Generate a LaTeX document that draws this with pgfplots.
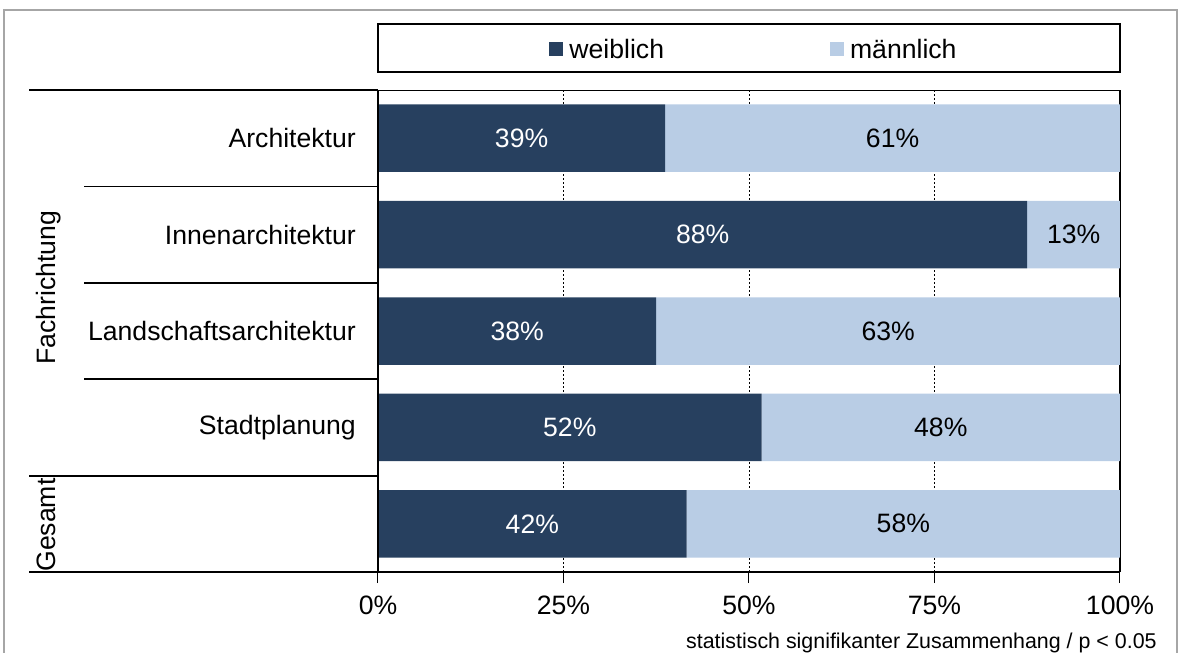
\documentclass[border=0pt]{standalone}
\usepackage{fontspec}
\setmainfont{Liberation Sans}
\usepackage{pgfplots}
\usepackage{pgfplotstable}
\pgfplotsset{compat=1.18}

\definecolor{dunkel}{RGB}{39,64,95}
\definecolor{hell}{RGB}{185,205,229}

% Anteile in Prozent: w = weiblich, m = maennlich
\pgfplotstableread{
y w m
0 38.7 61.3
1 87.5 12.5
2 37.5 62.5
3 51.7 48.3
4 41.6 58.4
}\anteile

\begin{document}
\fontsize{13.3}{16}\selectfont%
\begin{tikzpicture}
\path[use as bounding box] (0,0) rectangle (590pt,-326.5pt);

\begin{axis}[
  at={(189pt,-286pt)}, anchor=south west,
  scale only axis, width=371pt, height=241pt,
  xbar stacked, bar width=0.7,
  xmin=0, xmax=100, ymin=-0.5, ymax=4.5, y dir=reverse,
  xtick={0,25,50,75,100},
  xticklabels={0\%,25\%,50\%,75\%,100\%},
  xtick pos=left, xtick align=outside, major tick length=5.5pt,
  xticklabel style={yshift=-2pt},
  xmajorgrids,
  major grid style={black, line width=0.4pt, dash pattern=on 1.2pt off 0.8pt},
  ytick={0,1,2,3,4},
  yticklabels={Architektur,Innenarchitektur,Landschaftsarchitektur,Stadtplanung,{}},
  ytick style={draw=none},
  yticklabel style={xshift=-6.5pt},
  axis line style={black, line width=0.5pt},
  tick style={black, line width=0.5pt},
  legend columns=2,
  legend style={draw=none, fill=none, at={(0.5,1)}, anchor=center,
    xshift=3.5pt, yshift=19.75pt,
    nodes={inner xsep=3pt},
    /tikz/every even column/.append style={column sep=80pt}},
  legend image code/.code={\fill[#1,draw=none] (0pt,-2.8pt) rectangle (7pt,4.2pt);},
]
\addplot[fill=dunkel, draw=none] table[x=w, y=y]{\anteile};
\addplot[fill=hell, draw=none] table[x=m, y=y]{\anteile};
\legend{weiblich,männlich}
\end{axis}

% Beschriftung der Segmente
\begin{axis}[
  at={(189pt,-286pt)}, anchor=south west,
  scale only axis, width=371pt, height=241pt,
  xmin=0, xmax=100, ymin=-0.5, ymax=4.5, y dir=reverse,
  hide axis,
  /pgf/number format/assume math mode=true,
  nodes near coords={\pgfmathprintnumber[fixed,precision=0,assume math mode=true]{\pgfplotspointmeta}\%},
  every node near coord/.append style={anchor=center},
]
\addplot[draw=none, point meta=\thisrow{w},
  every node near coord/.append style={text=white}]
  table[x expr=\thisrow{w}/2, y=y]{\anteile};
\addplot[draw=none, point meta=\thisrow{m},
  every node near coord/.append style={text=black}]
  table[x expr=\thisrow{w}+\thisrow{m}/2, y=y]{\anteile};
\end{axis}

\begin{scope}[x=0.5pt, y=-0.5pt]
  \draw[gray!70, line width=1pt] (4,653) -- (4,10) -- (1177,10) -- (1177,653);
  \draw[line width=1pt] (378,24) rectangle (1120,72);
  \draw[line width=0.5pt] (378,90) -- (1120,90) -- (1120,572);
  \draw[line width=1pt] (378,90) -- (378,572) -- (1120,572);
  \draw[line width=0.9pt] (29,90) -- (378,90);
  \draw[line width=0.9pt] (84,186.4) -- (378,186.4);
  \draw[line width=0.9pt] (84,282.8) -- (378,282.8);
  \draw[line width=0.9pt] (84,379.2) -- (378,379.2);
  \draw[line width=0.9pt] (29,475.6) -- (378,475.6);
  \draw[line width=0.9pt] (29,572) -- (378,572);
  \node[rotate=90, anchor=base, inner sep=0pt] at (55,288) {Fachrichtung};
  \node[rotate=90, anchor=base west, inner sep=0pt] at (55,572) {Gesamt};
  \node[anchor=base east, inner sep=0pt, font=\fontsize{10.7}{12.8}\selectfont]
    at (1157,648) {statistisch signifikanter Zusammenhang / p < 0.05};
\end{scope}
\end{tikzpicture}
\end{document}
